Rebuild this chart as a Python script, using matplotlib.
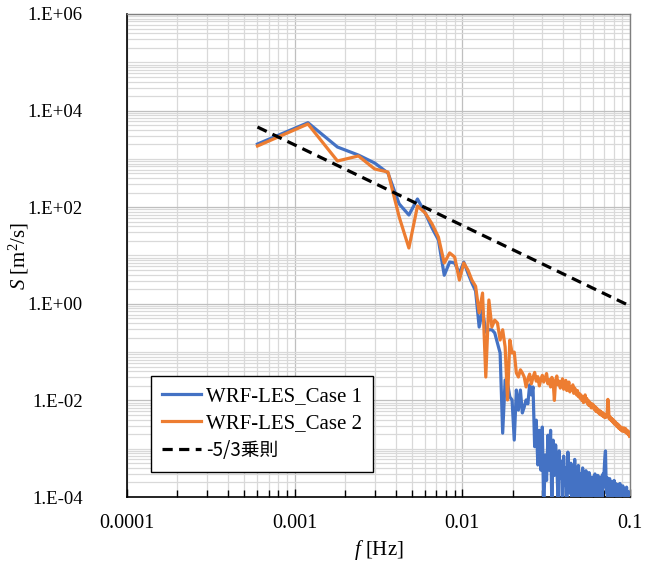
import matplotlib
matplotlib.use("Agg")
import matplotlib.pyplot as plt
from matplotlib.ticker import LogLocator, FixedLocator, NullFormatter

plt.rcParams['font.family'] = ['Liberation Serif', 'DejaVu Serif']
plt.rcParams['mathtext.fontset'] = 'custom'
plt.rcParams['mathtext.rm'] = 'Liberation Serif'
plt.rcParams['mathtext.it'] = 'Liberation Serif:italic'

# frequency resolution of the spectra
df = 0.0006
n_points = 166
freq = [df * (i + 1) for i in range(n_points)]

case1 = [
    2030, 5620, 1760, 1200, 822, 511, 117, 69, 148, 76,
    37, 21, 3.9, 7.3, 7.0, 4.3, 7.3, 4.3, 2.7, 1.84,
    0.33, 0.74, 0.26, 0.29, 0.29, 0.25, 0.154, 0.096, 0.0021, 0.0264,
    0.0229, 0.0118, 0.0102, 0.00151, 0.0164, 0.0063, 0.0164, 0.0055, 0.0073, 0.0102,
    0.0085, 0.021, 0.013, 0.019, 0.0011, 0.0039, 0.00046, 0.0024, 0.00036, 0.0028,
    0.00005, 0.00074, 0.00022, 0.0019, 0.00036, 0.0024, 0.00006, 0.0015, 0.00028, 0.0012,
    0.00045, 0.00009, 0.0009, 0.00025, 0.00055, 0.00004, 0.0007, 0.00018, 0.0004, 0.00008,
    0.00085, 0.0003, 0.00012, 0.0005, 0.00006, 0.00035, 0.00015, 0.0006, 0.00009, 0.0003,
    0.00005, 0.00045, 0.00012, 0.0003, 0.00007, 0.00025, 0.0004, 0.0001, 0.00022, 0.00006,
    0.00035, 0.00014, 0.00028, 0.00005, 0.00032, 0.00011, 0.0002, 0.00007, 0.00026, 0.00013,
    0.00024, 0.00008, 0.0003, 0.00012, 0.0002, 0.00006, 0.00028, 0.00015, 0.00022, 0.00009,
    0.00026, 0.00011, 0.0002, 0.00007, 0.0003, 0.00016, 0.00038, 0.00065, 0.0009, 0.00022,
    0.00012, 0.00025, 0.00009, 0.0002, 0.00013, 0.00024, 0.00007, 0.00018, 0.00011, 0.00021,
    0.00008, 0.00017, 0.00012, 0.00022, 0.00006, 0.00015, 0.00019, 0.00009, 0.00016, 0.00011,
    0.00018, 0.00007, 0.00014, 0.0001, 0.00019, 0.00006, 0.00013, 0.00016, 0.00008, 0.00012,
    0.00017, 0.00005, 0.00011, 0.00015, 0.00009, 0.00013, 0.00007, 0.00012, 0.00016, 0.00008,
    0.00011, 0.00006, 0.00013, 0.0001, 0.00007, 0.00012,
]

case2 = [
    1850, 5280, 905, 1150, 618, 535, 63, 14.3, 106, 76,
    45, 24, 7.0, 11.3, 9.3, 3.1, 7.0, 5.0, 3.1, 2.3,
    0.65, 1.67, 0.0305, 1.2, 0.33, 0.46, 0.40, 0.178, 0.29, 0.128,
    0.0102, 0.178, 0.096, 0.100, 0.037, 0.0305, 0.043, 0.037, 0.0305, 0.019,
    0.028, 0.035, 0.022, 0.030, 0.038, 0.025, 0.031, 0.020, 0.027, 0.033,
    0.024, 0.029, 0.036, 0.022, 0.027, 0.019, 0.030, 0.024, 0.010, 0.026,
    0.032, 0.021, 0.025, 0.018, 0.023, 0.028, 0.017, 0.021, 0.026, 0.016,
    0.020, 0.024, 0.015, 0.019, 0.017, 0.021, 0.014, 0.018, 0.016, 0.013,
    0.016, 0.012, 0.014, 0.011, 0.013, 0.010, 0.012, 0.009, 0.011, 0.013,
    0.0095, 0.011, 0.0085, 0.010, 0.0078, 0.0092, 0.0080, 0.0070, 0.0085, 0.0072,
    0.0080, 0.0065, 0.0075, 0.0060, 0.0070, 0.0058, 0.0066, 0.0055, 0.0062, 0.0052,
    0.0060, 0.0050, 0.0057, 0.0048, 0.0055, 0.0046, 0.0052, 0.0044, 0.0050, 0.0045,
    0.0048, 0.0060, 0.0105, 0.0075, 0.0042, 0.0046, 0.0040, 0.0044, 0.0038, 0.0042,
    0.0036, 0.0040, 0.0034, 0.0038, 0.0032, 0.0036, 0.0031, 0.0034, 0.0029, 0.0033,
    0.0030, 0.0027, 0.0031, 0.0026, 0.0029, 0.0025, 0.0028, 0.0024, 0.0027, 0.0023,
    0.0026, 0.0024, 0.0027, 0.0023, 0.0025, 0.0022, 0.0026, 0.0023, 0.0021, 0.0024,
    0.0022, 0.0020, 0.0023, 0.0019, 0.0021, 0.0018,
]

# -5/3 power law reference line (end points)
law_f = [0.0006, 0.1]
law_s = [4570, 0.9]

labels = ['WRF-LES_Case 1', 'WRF-LES_Case 2', '-5/3乗則']
x_ticks = [0.0001, 0.001, 0.01, 0.1]
x_ticklabels = ['0.0001', '0.001', '0.01', '0.1']
y_ticks = [1e-4, 1e-2, 1e0, 1e2, 1e4, 1e6]
y_ticklabels = ['1.E-04', '1.E-02', '1.E+00', '1.E+02', '1.E+04', '1.E+06']

fig = plt.figure(figsize=(6.57, 5.63), dpi=100)
ax = fig.add_axes([127 / 657, 1 - 497 / 563, (630 - 127) / 657, (497 - 14) / 563])

l1, = ax.plot(freq, case1, color='#4472C4', lw=2.3, label=labels[0], zorder=3)
l2, = ax.plot(freq, case2, color='#ED7D31', lw=2.3, label=labels[1], zorder=4)
l3, = ax.plot(law_f, law_s, color='black', lw=2.3, dashes=(3.2, 2.0), label=labels[2], zorder=5)

ax.set_xscale('log')
ax.set_yscale('log')
ax.set_xlim(1e-4, 0.1)
ax.set_ylim(1e-4, 1e6)

ax.xaxis.set_major_locator(FixedLocator(x_ticks))
ax.set_xticklabels(x_ticklabels)
ax.xaxis.set_minor_locator(LogLocator(base=10, subs=range(2, 10), numticks=20))
ax.xaxis.set_minor_formatter(NullFormatter())
ax.yaxis.set_major_locator(FixedLocator(y_ticks))
ax.set_yticklabels(y_ticklabels)
ax.yaxis.set_minor_locator(LogLocator(base=10, subs=range(1, 10), numticks=30))
ax.yaxis.set_minor_formatter(NullFormatter())

ax.grid(which='major', color='#bfbfbf', lw=0.9, zorder=0)
ax.grid(which='minor', color='#d9d9d9', lw=0.9, zorder=0)
ax.set_axisbelow(True)

ax.tick_params(axis='x', which='major', direction='in', length=6, width=1, pad=12, labelsize=14.5)
ax.tick_params(axis='x', which='minor', direction='in', length=5, width=1)
ax.tick_params(axis='y', which='both', length=0, pad=32, labelsize=13.5)

for s in ['left', 'bottom']:
    ax.spines[s].set_color('black')
    ax.spines[s].set_linewidth(1.2)
for s in ['top', 'right']:
    ax.spines[s].set_color('#7f7f7f')
    ax.spines[s].set_linewidth(1.0)

ax.set_xlabel(r'$\mathit{f}$ [Hz]', fontsize=15, labelpad=4)
ax.set_ylabel(r'$\mathit{S}$ [m$^2$/s]', fontsize=15)
ax.yaxis.set_label_coords(-0.19, 0.5)

leg = ax.legend(handles=[l1, l2, l3], loc='lower left', bbox_to_anchor=(0.048, 0.052),
                fontsize=15, frameon=True, fancybox=False, edgecolor='black',
                framealpha=1, handlelength=1.9, handletextpad=0.25, borderpad=0.5,
                labelspacing=0.35, borderaxespad=0)
leg.get_frame().set_linewidth(1.0)
leg.get_texts()[2].set_family(['Noto Sans CJK JP', 'DejaVu Sans'])
leg.get_texts()[2].set_fontsize(13.5)

fig.savefig('out.png', dpi=100)
